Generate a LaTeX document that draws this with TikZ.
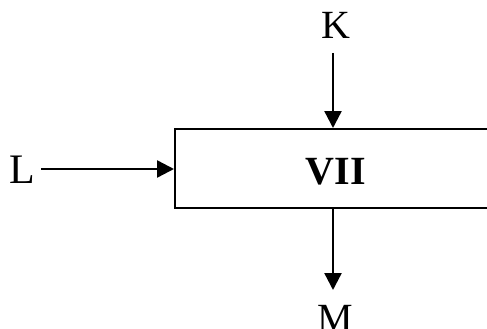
\documentclass[tikz,border=0pt]{standalone}
\usepackage{fontspec}
\setmainfont{Liberation Serif}
\usetikzlibrary{arrows.meta}
\begin{document}
\begin{tikzpicture}[x=1pt,y=-1pt,
  flow/.style={line width=2.4pt,-{Triangle[length=17pt,width=17pt]}},
  lbl/.style={inner sep=0pt,font=\fontsize{40}{44}\selectfont},
  blockbox/.style={draw,line width=2.4pt,rectangle,inner sep=0pt,minimum width=400pt,minimum height=79pt}]
\useasboundingbox (0,0) rectangle (487,329);
\begin{scope}
\clip (0,0) rectangle (487,329);
\node[blockbox,anchor=north west] (blk) at (174,128) {};
\end{scope}
\node[lbl,font=\bfseries\fontsize{40}{44}\selectfont] (vii) at (336,172) {VII};
\node[lbl] (k) at (336,25) {K};
\node[lbl,font=\fontsize{42}{46}\selectfont] (l) at (22,170) {L};
\node[lbl] (m) at (335,318) {M};
\coordinate (kin) at (333,128);
\coordinate (kstart) at (333,53);
\coordinate (lin) at (174,169);
\coordinate (lstart) at (41,169);
\coordinate (mout) at (333,207);
\coordinate (mend) at (333,290);
\draw[flow] (kstart) -- (kin);
\draw[flow] (lstart) -- (lin);
\draw[flow] (mout) -- (mend);
\end{tikzpicture}
\end{document}
